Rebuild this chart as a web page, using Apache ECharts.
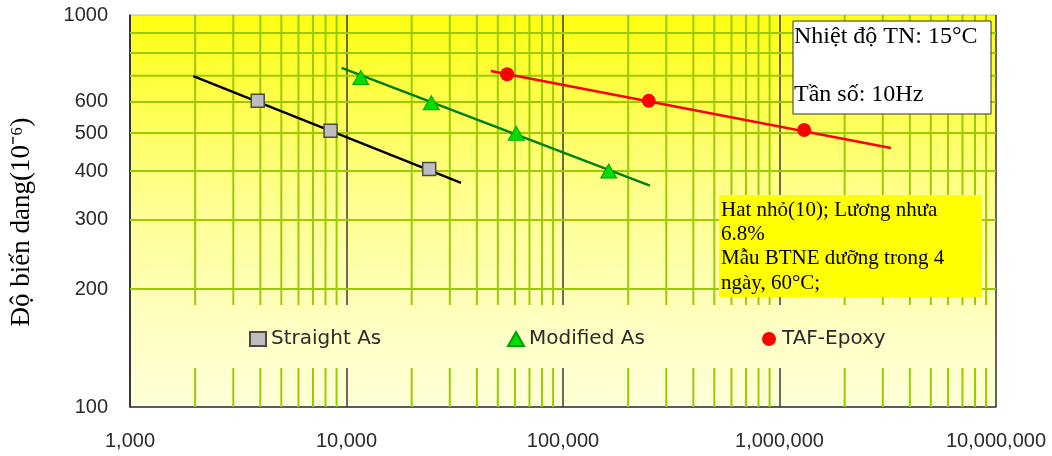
<!DOCTYPE html>
<html>
<head>
<meta charset="utf-8">
<script src="https://cdn.jsdelivr.net/npm/echarts@6/dist/echarts.min.js"></script>
<style>
html,body{margin:0;padding:0;background:#fff;}
#chart{width:1052px;height:456px;}
</style>
</head>
<body>
<div id="chart"></div>
<script>
// ---- data ----
const seriesNames = ['Straight As', 'Modified As', 'TAF-Epoxy'];

const straightX = [3890, 8440, 24100];
const straightY = [604, 507, 405];
const straightLineX = [1960, 33800];
const straightLineY = [698, 373];

const modifiedX = [11640, 24640, 60800, 162600];
const modifiedY = [693, 597, 499, 400];
const modifiedLineX = [9500, 252000];
const modifiedLineY = [733, 367];

const epoxyX = [55200, 249000, 1300000];
const epoxyY = [706, 604, 509];
const epoxyLineX = [46400, 3270000];
const epoxyLineY = [720, 458];

// axis / grid ticks
const xMajorTicks = [1000, 10000, 100000, 1000000, 10000000];
const xMinorMultipliers = [2, 3, 4, 5, 6, 7, 8, 9];
const yGridValues = [200, 300, 400, 500, 600, 700, 800, 900];
const yLabelValues = [100, 200, 300, 400, 500, 600, 1000];

const yTitle = 'Độ biến dang(10⁻⁶)';
const note1 = 'Nhiệt độ TN: 15°C\n\nTần số: 10Hz';
const note2 = 'Hat nhỏ(10); Lương nhưa\n6.8%\nMẫu BTNE dưỡng trong 4\nngày, 60°C;';

// ---- build ----
const zip = (xs, ys) => xs.map((x, i) => [x, ys[i]]);
const xMinorGrid = [];
for (let d = 0; d < xMajorTicks.length - 1; d++) {
  xMinorMultipliers.forEach(m => xMinorGrid.push(xMajorTicks[d] * m));
}

const plotGradient = {
  type: 'linear', x: 0, y: 15, x2: 0, y2: 407, global: true,
  colorStops: [
    { offset: 0, color: '#ffff10' },
    { offset: 0.45, color: '#ffff8c' },
    { offset: 0.8, color: '#ffffc4' },
    { offset: 1, color: '#ffffd8' }
  ]
};
const green = '#99cc00';

const chart = echarts.init(document.getElementById('chart'), null, { renderer: 'canvas' });

const legendCommon = {
  orient: 'horizontal', top: 329, itemWidth: 16, itemHeight: 14,
  textStyle: { fontFamily: 'DejaVu Sans', fontSize: 20, color: '#2a2a2a' },
  selectedMode: false, padding: 0
};

chart.setOption({
  animation: false,
  grid: {
    left: 130, right: 56, top: 15, bottom: 49,
    show: true, backgroundColor: plotGradient, borderColor: '#b4b4b4', borderWidth: 1
  },
  xAxis: {
    type: 'log', logBase: 10, min: 1000, max: 10000000,
    axisLine: { show: true, lineStyle: { color: '#333', width: 1.5 } },
    axisTick: { show: false },
    splitLine: { show: true, lineStyle: { color: '#3a3a3a', width: 1.5 } },
    axisLabel: {
      margin: 24, fontFamily: 'Liberation Sans', fontSize: 20, color: '#2a2a2a',
      formatter: v => Number(v).toLocaleString('en-US')
    }
  },
  yAxis: {
    type: 'log', logBase: 10, min: 100, max: 1000,
    axisLine: { show: true, lineStyle: { color: '#333', width: 1.5 } },
    axisTick: { show: false },
    splitLine: { show: false },
    axisLabel: { show: false }
  },
  legend: seriesNames.map((n, i) => Object.assign({}, legendCommon, {
    left: [249, 507, 762][i], data: [n]
  })),
  graphic: [
    { type: 'rect', z: 3, shape: { x: 131, y: 305, width: 864, height: 63 },
      style: { fill: plotGradient } },
    { type: 'rect', z: 10, shape: { x: 793, y: 21, width: 198, height: 93 },
      style: { fill: '#ffffff', stroke: '#333', lineWidth: 1 } },
    { type: 'text', z: 11, x: 794, y: 22, style: {
        text: note1, fill: '#000', font: '24px "Liberation Serif"', lineHeight: 29,
        align: 'left', verticalAlign: 'top' } },
    { type: 'rect', z: 10, shape: { x: 719, y: 195, width: 263, height: 102 },
      style: { fill: '#ffff00' } },
    { type: 'text', z: 11, x: 721, y: 198, style: {
        text: note2, fill: '#000', font: '21px "Liberation Serif"', lineHeight: 24.3,
        align: 'left', verticalAlign: 'top' } },
    { type: 'text', z: 11, x: 22, y: 222, rotation: Math.PI / 2, style: {
        text: yTitle, fill: '#000', font: '27px "Liberation Serif"',
        align: 'center', verticalAlign: 'middle' } }
  ],
  series: [
    { name: 'xMinorGrid', type: 'custom', z: 1, silent: true, clip: false,
      data: xMinorGrid.map(v => [v, 100]),
      renderItem: (p, api) => {
        const a = api.coord([api.value(0), 100]);
        const b = api.coord([api.value(0), 1000]);
        return { type: 'line', shape: { x1: a[0], y1: a[1], x2: b[0], y2: b[1] },
          style: { stroke: green, lineWidth: 2 } };
      } },
    { name: 'yGrid', type: 'custom', z: 1, silent: true, clip: false,
      data: yGridValues.map(v => [1000, v]),
      renderItem: (p, api) => {
        const a = api.coord([1000, api.value(1)]);
        const b = api.coord([10000000, api.value(1)]);
        return { type: 'line', shape: { x1: a[0], y1: a[1], x2: b[0], y2: b[1] },
          style: { stroke: green, lineWidth: 2 } };
      } },
    { name: 'yLabels', type: 'custom', z: 1, silent: true, clip: false,
      data: yLabelValues.map(v => [1000, v]),
      renderItem: (p, api) => {
        const a = api.coord([1000, api.value(1)]);
        return { type: 'text', x: a[0] - 22, y: a[1], style: {
          text: String(api.value(1)), fill: '#2a2a2a', font: '20px "Liberation Sans"',
          align: 'right', verticalAlign: 'middle' } };
      } },
    { name: 'Straight As trend', type: 'line', z: 4, symbol: 'none', data: zip(straightLineX, straightLineY),
      lineStyle: { color: '#000', width: 2.5 } },
    { name: 'Modified As trend', type: 'line', z: 4, symbol: 'none', data: zip(modifiedLineX, modifiedLineY),
      lineStyle: { color: '#008000', width: 2.5 } },
    { name: 'TAF-Epoxy trend', type: 'line', z: 4, symbol: 'none', data: zip(epoxyLineX, epoxyLineY),
      lineStyle: { color: '#ff0000', width: 2.5 } },
    { name: 'Straight As', type: 'scatter', z: 5, symbol: 'rect', symbolSize: 13,
      data: zip(straightX, straightY),
      itemStyle: { color: '#bdbdbd', borderColor: '#4a4a4a', borderWidth: 1.5, opacity: 1 } },
    { name: 'Modified As', type: 'scatter', z: 5, symbol: 'triangle', symbolSize: [16, 14],
      data: zip(modifiedX, modifiedY),
      itemStyle: { color: '#00dd00', borderColor: '#00a000', borderWidth: 1, opacity: 1 } },
    { name: 'TAF-Epoxy', type: 'scatter', z: 5, symbol: 'circle', symbolSize: 14,
      data: zip(epoxyX, epoxyY),
      itemStyle: { color: '#ff0000', opacity: 1 } }
  ]
});
</script>
</body>
</html>
